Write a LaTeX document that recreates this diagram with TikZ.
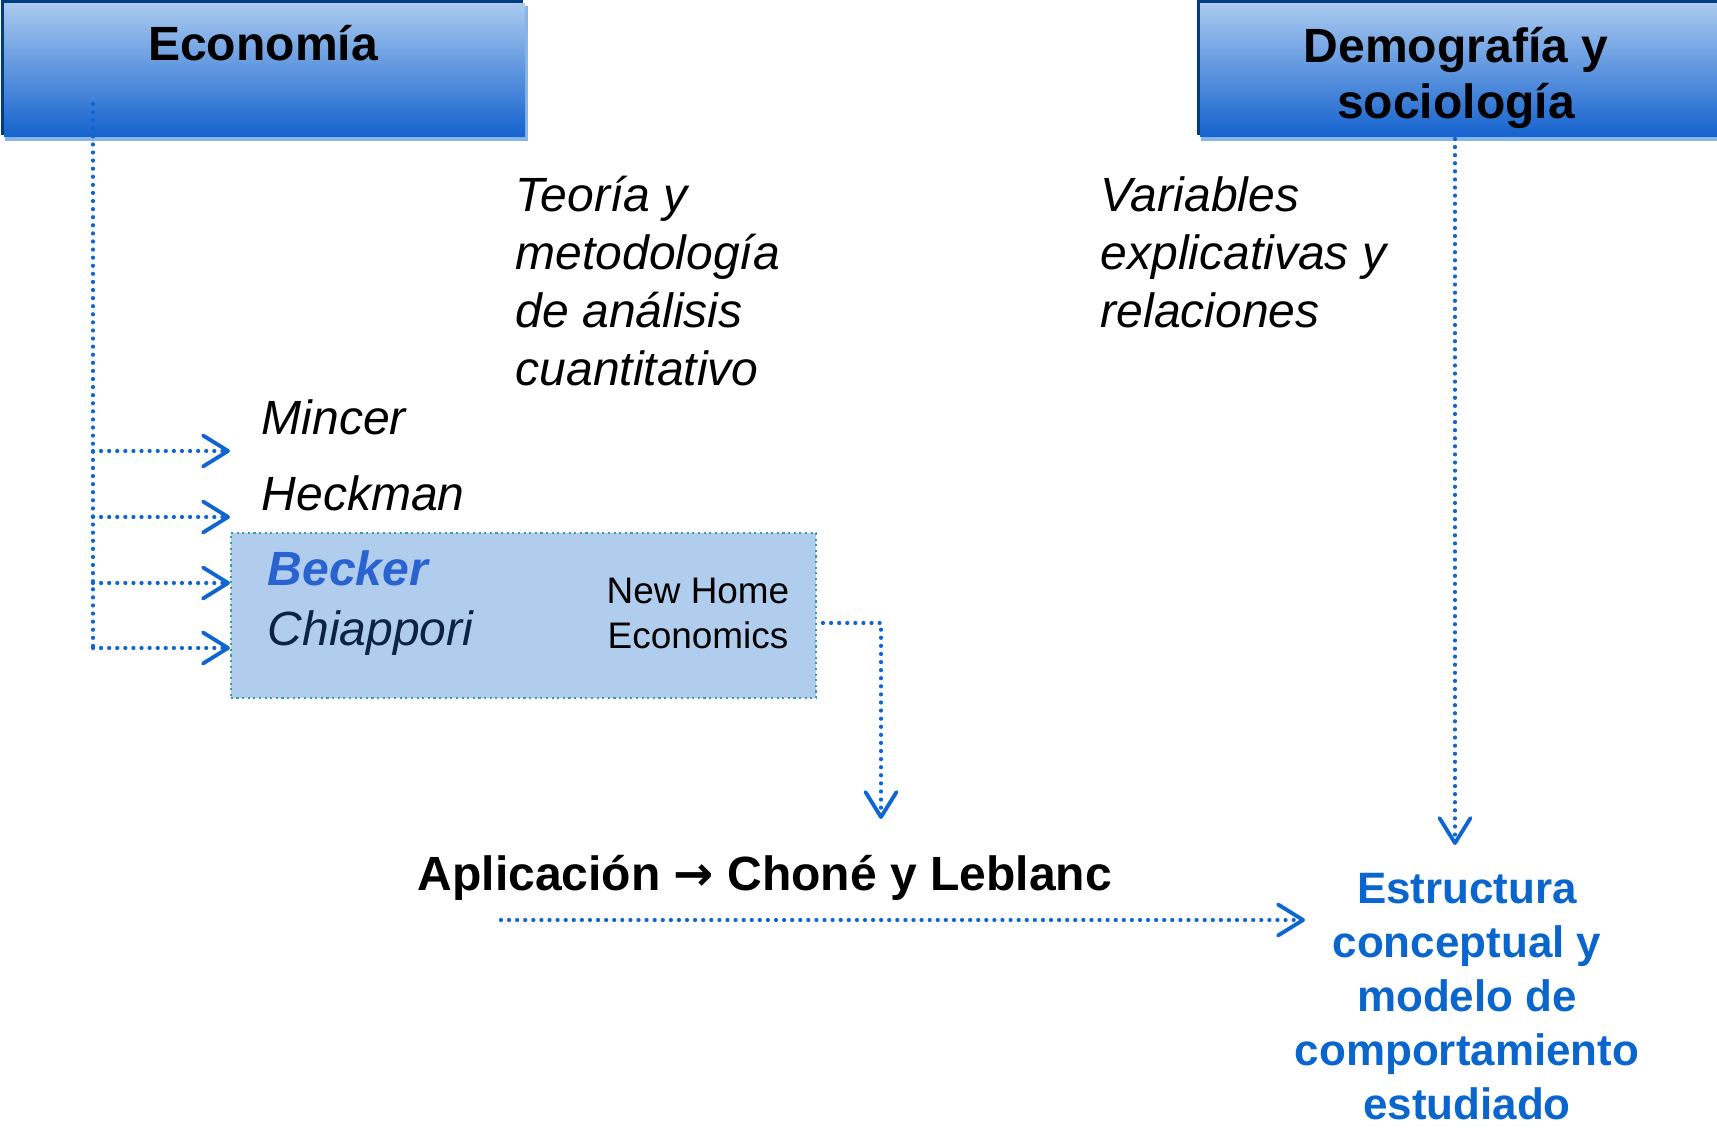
\documentclass[tikz,border=0pt]{standalone}
\usepackage{fontspec}
\setmainfont{Liberation Sans}
\newfontfamily\arrowfont{DejaVu Sans}
\usetikzlibrary{arrows.meta}
\definecolor{hdtop}{HTML}{A9C9EF}
\definecolor{hdbot}{HTML}{1462CE}
\definecolor{hdnavy}{HTML}{003C80}
\definecolor{hdlight}{HTML}{86B5EA}
\definecolor{cblue}{HTML}{0F66D2}
\definecolor{boxfill}{HTML}{B0CDED}
\definecolor{boxline}{HTML}{2F9FB0}
\definecolor{beckerblue}{HTML}{2A63CF}
\definecolor{chiapnavy}{HTML}{0C2343}
\definecolor{estrblue}{HTML}{0A66CC}
\tikzset{
    conn/.style={cblue, line width=1.2pt, line cap=round, dash pattern=on 0pt off 2.3pt,
        -{Straight Barb[length=2.5mm,width=3.1mm,line width=1.1pt,round]}},
    hdtext/.style={font=\fontsize{13.66}{16.2}\selectfont\bfseries, align=center, inner sep=0pt, anchor=base},
    itext/.style={font=\fontsize{13.66}{16.5}\selectfont\itshape, align=left, inner sep=0pt, anchor=base west},
}
\begin{document}
\begin{tikzpicture}[x=0.01cm,y=-0.01cm]
            \useasboundingbox (0,0) rectangle (1717,1128);
            % header boxes
            \foreach \xa/\xb in {1/525, 1197/1740}{
                    \fill[hdnavy] (\xa,0) rectangle (\xb-2,135);
                    \fill[hdlight] (\xa+4,6) rectangle (\xb+3,141);
                    \shade[top color=hdtop, bottom color=hdbot] (\xa+3,4) rectangle (\xb,137);
                }
            \node[hdtext] (econ) at (263,61) {Economía};
            \node[hdtext] (demo) at (1456,119) {Demografía y\\sociología};
            % texts (base = last line)
            \node[itext] (teoria) at (515,386) {Teoría y\\metodología\\de análisis\\cuantitativo};
            \node[itext] (vars) at (1100,328) {Variables\\explicativas y\\relaciones};
            \node[itext] (mincer) at (261,435) {Mincer};
            \node[itext] (heckman) at (261,511) {Heckman};
            \node[draw=boxline, fill=boxfill, densely dotted, line width=0.6pt, minimum width=5.85cm, minimum height=1.65cm, inner sep=0pt] (nhebox) at (523.5,615.5) {};
            \node[itext, font=\fontsize{13.66}{16.5}\selectfont\bfseries\itshape, beckerblue] (becker) at (267,586) {Becker};
            \node[itext, chiapnavy] (chiap) at (267,646) {Chiappori};
            \node[font=\fontsize{10.5}{12.8}\selectfont, align=center, inner sep=0pt, anchor=base] (nhe) at (698,649) {New Home\\Economics};
            \node[font=\fontsize{13.66}{16.5}\selectfont\bfseries, inner sep=0pt, anchor=base west] (aplic) at (417,891) {Aplicación {\arrowfont\bfseries →} Choné y Leblanc};
            \node[hdtext, font=\fontsize{12.5}{15.36}\selectfont\bfseries, estrblue] (estr) at (1467,1120) {Estructura\\conceptual y\\modelo de\\comportamiento\\estudiado};
            % connectors
            \coordinate (etop) at (93,104);
            \foreach \y [count=\i] in {451,517,583,648}{
                    \coordinate (l\i) at (93,\y);
                    \coordinate (r\i) at (230,\y);
                    \draw[conn] (l\i) -- (r\i);
                }
            \draw[conn, -] (etop) -- (l4);
            \coordinate (nheout) at (823,623);
            \coordinate (apltop) at (881,819);
            \draw[conn] (nheout) -| (apltop);
            \coordinate (aplout) at (501,920);
            \coordinate (estrin) at (1305,920);
            \draw[conn] (aplout) -- (estrin);
            \coordinate (dtop) at (1455,139);
            \coordinate (dbot) at (1455,845);
            \draw[conn] (dtop) -- (dbot);
\end{tikzpicture}
\end{document}
